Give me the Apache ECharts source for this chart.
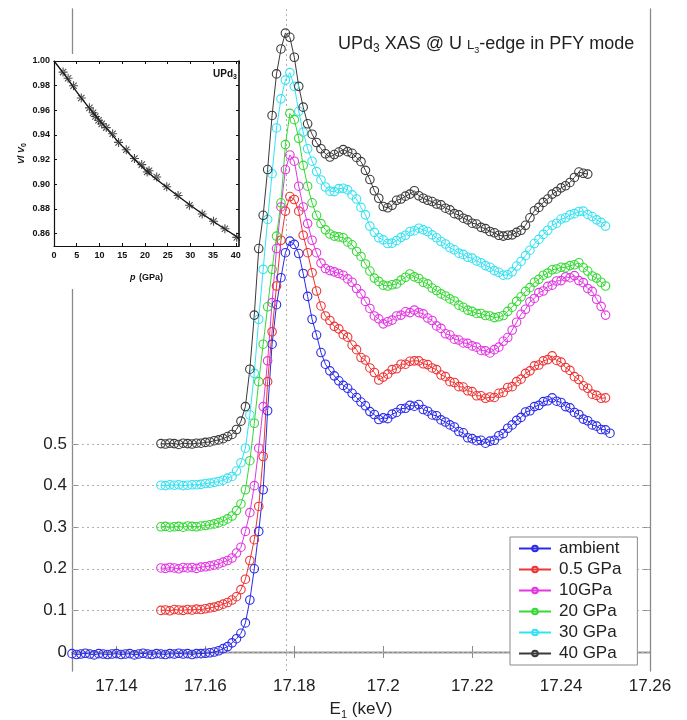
<!DOCTYPE html>
<html><head><meta charset="utf-8">
<script src="https://cdn.jsdelivr.net/npm/echarts@6/dist/echarts.min.js"></script>
<style>html,body{margin:0;padding:0;background:#fff}#c{width:687px;height:720px}</style>
</head><body><div id="c"></div>
<script>
// ---------------- main chart data ----------------
const seriesNames = ['ambient', '0.5 GPa', '10GPa', '20 GPa', '30 GPa', '40 GPa'];
const seriesColors = ['#2a2ae8', '#ee3434', '#e236e2', '#36d836', '#36e2f2', '#3a3a3a'];
const seriesStartKeV = [17.130, 17.150, 17.150, 17.150, 17.150, 17.150];

const ambient = [
 -0.004,-0.006,-0.005,-0.003,-0.005,-0.007,-0.004,-0.005,-0.006,-0.005,
 -0.004,-0.006,-0.005,-0.004,-0.007,-0.005,-0.003,-0.005,-0.006,-0.004,
 -0.005,-0.006,-0.004,-0.005,-0.003,-0.005,-0.004,-0.006,-0.004,-0.004,
 -0.003,-0.002,0.000,0.003,0.008,0.013,0.022,0.032,0.045,0.070,
 0.125,0.200,0.290,0.390,0.580,0.740,0.835,0.900,0.960,0.988,
 0.980,0.958,0.910,0.855,0.800,0.762,0.720,0.692,0.676,0.664,
 0.652,0.641,0.634,0.622,0.612,0.601,0.592,0.578,0.571,0.559,
 0.563,0.561,0.572,0.576,0.585,0.586,0.593,0.591,0.595,0.583,
 0.579,0.570,0.568,0.558,0.553,0.546,0.541,0.530,0.527,0.515,
 0.513,0.508,0.509,0.502,0.507,0.509,0.520,0.525,0.538,0.546,
 0.557,0.564,0.577,0.580,0.590,0.593,0.602,0.604,0.611,0.603,
 0.600,0.590,0.587,0.576,0.571,0.560,0.556,0.546,0.543,0.535,
 0.534,0.526
];
const gpa05 = [
 0.100,0.101,0.099,0.102,0.101,0.100,0.102,0.101,0.103,0.102,
 0.104,0.106,0.108,0.111,0.115,0.119,0.125,0.133,0.150,0.175,
 0.220,0.270,0.350,0.470,0.650,0.770,0.880,0.990,1.060,1.095,
 1.088,1.060,1.002,0.960,0.912,0.868,0.832,0.808,0.797,0.783,
 0.777,0.763,0.757,0.738,0.727,0.708,0.702,0.683,0.672,0.654,
 0.661,0.668,0.679,0.681,0.692,0.692,0.699,0.700,0.700,0.693,
 0.691,0.683,0.679,0.666,0.662,0.650,0.648,0.638,0.637,0.628,
 0.626,0.616,0.616,0.610,0.613,0.612,0.622,0.624,0.636,0.638,
 0.650,0.656,0.670,0.676,0.688,0.690,0.700,0.703,0.712,0.701,
 0.697,0.684,0.677,0.662,0.655,0.640,0.634,0.620,0.617,0.610,
 0.611
];
const gpa10 = [
 0.202,0.201,0.203,0.202,0.200,0.203,0.202,0.203,0.201,0.204,
 0.205,0.207,0.209,0.212,0.216,0.220,0.226,0.238,0.252,0.290,
 0.335,0.400,0.490,0.590,0.700,0.840,0.970,1.070,1.160,1.195,
 1.180,1.120,1.070,1.030,0.990,0.960,0.935,0.922,0.917,0.914,
 0.910,0.906,0.897,0.889,0.874,0.861,0.843,0.826,0.808,0.801,
 0.789,0.794,0.798,0.808,0.810,0.818,0.816,0.822,0.816,0.813,
 0.803,0.797,0.784,0.778,0.765,0.762,0.752,0.750,0.743,0.742,
 0.736,0.733,0.725,0.724,0.719,0.727,0.733,0.747,0.756,0.774,
 0.793,0.812,0.824,0.842,0.850,0.864,0.868,0.879,0.882,0.892,
 0.893,0.902,0.900,0.905,0.893,0.888,0.874,0.867,0.848,0.831,
 0.810
];
const gpa20 = [
 0.301,0.302,0.300,0.301,0.302,0.300,0.303,0.302,0.301,0.303,
 0.304,0.306,0.308,0.311,0.315,0.320,0.327,0.340,0.356,0.390,
 0.460,0.550,0.650,0.740,0.830,0.920,1.000,1.080,1.220,1.295,
 1.280,1.235,1.170,1.120,1.080,1.050,1.030,1.015,1.005,1.000,
 0.998,0.996,0.986,0.979,0.963,0.951,0.933,0.916,0.899,0.891,
 0.882,0.880,0.883,0.885,0.894,0.901,0.909,0.902,0.898,0.889,
 0.885,0.875,0.869,0.861,0.856,0.849,0.844,0.834,0.829,0.822,
 0.819,0.814,0.814,0.809,0.808,0.804,0.806,0.809,0.819,0.829,
 0.843,0.854,0.867,0.876,0.889,0.896,0.906,0.911,0.919,0.921,
 0.925,0.924,0.929,0.931,0.936,0.924,0.916,0.904,0.899,0.889,
 0.880
];
const gpa30 = [
 0.401,0.400,0.402,0.401,0.402,0.400,0.401,0.402,0.402,0.403,
 0.405,0.406,0.408,0.410,0.413,0.418,0.422,0.435,0.455,0.490,
 0.570,0.670,0.800,0.920,1.040,1.150,1.260,1.330,1.375,1.393,
 1.360,1.300,1.250,1.210,1.180,1.155,1.135,1.118,1.108,1.107,
 1.114,1.115,1.111,1.099,1.089,1.069,1.051,1.024,1.009,0.996,
 0.991,0.982,0.983,0.989,0.997,1.002,1.011,1.013,1.019,1.015,
 1.011,1.003,0.996,0.987,0.981,0.972,0.967,0.959,0.956,0.949,
 0.947,0.940,0.936,0.929,0.925,0.917,0.913,0.906,0.907,0.914,
 0.928,0.939,0.953,0.966,0.982,0.992,1.004,1.014,1.026,1.031,
 1.041,1.044,1.051,1.054,1.059,1.060,1.052,1.047,1.039,1.033,
 1.024
];
const gpa40 = [
 0.501,0.500,0.502,0.501,0.499,0.502,0.501,0.500,0.502,0.502,
 0.504,0.505,0.508,0.510,0.513,0.518,0.523,0.535,0.555,0.590,
 0.680,0.810,0.970,1.050,1.160,1.290,1.390,1.450,1.488,1.478,
 1.430,1.360,1.310,1.270,1.245,1.225,1.210,1.198,1.190,1.196,
 1.202,1.208,1.203,1.199,1.189,1.179,1.158,1.136,1.109,1.091,
 1.071,1.068,1.074,1.086,1.089,1.096,1.101,1.109,1.097,1.091,
 1.086,1.083,1.077,1.075,1.067,1.063,1.054,1.051,1.043,1.039,
 1.031,1.029,1.021,1.018,1.011,1.008,1.002,1.000,1.002,1.003,
 1.009,1.014,1.026,1.044,1.061,1.069,1.081,1.089,1.101,1.107,
 1.116,1.121,1.129,1.141,1.154,1.151,1.149
];
const seriesValues = [ambient, gpa05, gpa10, gpa20, gpa30, gpa40];

const xTickValues = [17.14, 17.16, 17.18, 17.2, 17.22, 17.24, 17.26];
const yTickValues = [0, 0.1, 0.2, 0.3, 0.4, 0.5];
const peakLineKeV = 17.1783;

// ---------------- inset data ----------------
const insetPressure = [2.0, 3.1, 4.3, 6.0, 7.8, 8.6, 9.1, 9.8, 10.5, 11.5, 12.9, 14.2, 15.9, 17.7, 19.3, 20.5, 20.9, 22.6, 24.8, 27.3, 29.8, 32.6, 35.1, 37.6, 40.2];
const insetVolume   = [0.991, 0.986, 0.980, 0.970, 0.962, 0.958, 0.955, 0.952, 0.949, 0.946, 0.941, 0.934, 0.928, 0.921, 0.916, 0.910, 0.911, 0.906, 0.898, 0.891, 0.883, 0.876, 0.870, 0.864, 0.857];
const fitPressure = [0, 2.5, 5, 7.5, 10, 15, 20, 25, 30, 35, 40, 40.6];
const fitVolume   = [1.000, 0.988, 0.975, 0.963, 0.952, 0.931, 0.912, 0.897, 0.883, 0.870, 0.858, 0.856];
const insetYTicks = [0.86, 0.88, 0.90, 0.92, 0.94, 0.96, 0.98, 1.00];

// ---------------- build ----------------
const FONT = '"Liberation Sans", Arial, sans-serif';
const GRAY = '#8a8a8a';
const X_MIN = 17.13, X_MAX = 17.26, Y_MIN = -0.0457, Y_MAX = 1.546;

function energies(start, n) {
  const out = [];
  const s = Math.round(start * 1000);
  for (let i = 0; i < n; i++) out.push((s + i) / 1000);
  return out;
}

const mainSeries = seriesValues.map((vals, k) => {
  const E = energies(seriesStartKeV[k], vals.length);
  const c = seriesColors[k];
  const s = {
    name: seriesNames[k],
    type: 'line',
    xAxisIndex: 0, yAxisIndex: 0,
    data: vals.map((v, i) => [E[i], v]),
    symbol: 'circle',
    symbolSize: 8.5,
    showSymbol: true,
    color: c,
    lineStyle: { color: c, width: 1 },
    itemStyle: { color: 'rgba(255,255,255,0)', borderColor: c, borderWidth: 1.1 },
    emphasis: { disabled: true },
    z: 2
  };
  if (k === 0) {
    s.markLine = {
      silent: true,
      symbol: ['none', 'none'],
      label: { show: false },
      precision: 6,
      lineStyle: { color: '#b0b0b0', type: [2, 3], width: 1 },
      data: yTickValues.map(v => [{ coord: [X_MIN, v] }, { coord: [X_MAX, v] }])
        .concat([[{ coord: [peakLineKeV, Y_MIN] }, { coord: [peakLineKeV, Y_MAX] }]]),
      z: 1
    };
  }
  return s;
});

const chart = echarts.init(document.getElementById('c'), null, { renderer: 'canvas' });
const fmtX = v => String(Number(v.toFixed(2)));

chart.setOption({
  animation: false,
  backgroundColor: '#fff',
  textStyle: { fontFamily: FONT },
  grid: [
    { left: 72, right: 37, top: 9, bottom: 49, containLabel: false, outerBoundsMode: 'none' },
    { left: 54, top: 61, width: 185, height: 185, z: 6, containLabel: false, outerBoundsMode: 'none' }
  ],
  xAxis: [
    {
      type: 'value', gridIndex: 0, min: X_MIN, max: X_MAX, position: 'bottom',
      axisLine: { lineStyle: { color: GRAY, width: 1.3 } },
      axisTick: { inside: true, length: 6, customValues: xTickValues, lineStyle: { color: GRAY } },
      axisLabel: { customValues: xTickValues, formatter: fmtX, color: '#222', fontSize: 17, margin: 7, fontFamily: FONT },
      splitLine: { show: false },
      name: '{a|E}{s|1}{a| (keV)}', nameLocation: 'middle', nameGap: 27,
      nameTextStyle: { rich: {
        a: { fontSize: 17, color: '#222', fontFamily: FONT, lineHeight: 22, verticalAlign: 'middle' },
        s: { fontSize: 11, color: '#222', fontFamily: FONT, lineHeight: 14, verticalAlign: 'bottom' } } }
    },
    {
      type: 'value', gridIndex: 0, min: X_MIN, max: X_MAX, position: 'top',
      axisLine: { lineStyle: { color: GRAY, width: 1.3 } },
      axisTick: { inside: true, length: 6, customValues: xTickValues, lineStyle: { color: GRAY } },
      axisLabel: { show: false }, splitLine: { show: false }
    },
    {
      type: 'value', gridIndex: 1, min: 0, max: 40.7, interval: 5, position: 'bottom', z: 7,
      axisLine: { onZero: false, lineStyle: { color: '#111', width: 1.2 } },
      axisTick: { inside: true, length: 3, lineStyle: { color: '#111' } },
      axisLabel: { color: '#111', fontSize: 9, fontWeight: 'bold', margin: 5, fontFamily: FONT,
        showMaxLabel: false },
      splitLine: { show: false },
      name: '{i|p} {b|(GPa)}', nameLocation: 'middle', nameGap: 26,
      nameTextStyle: { rich: {
        i: { fontSize: 9, fontStyle: 'italic', fontWeight: 'bold', color: '#111', fontFamily: FONT },
        b: { fontSize: 9, fontWeight: 'bold', color: '#111', fontFamily: FONT } } }
    },
    {
      type: 'value', gridIndex: 1, min: 0, max: 40.7, interval: 5, position: 'top', z: 7,
      axisLine: { onZero: false, lineStyle: { color: '#111', width: 1.2 } },
      axisTick: { inside: true, length: 3, lineStyle: { color: '#111' } },
      axisLabel: { show: false }, splitLine: { show: false }
    }
  ],
  yAxis: [
    {
      type: 'value', gridIndex: 0, min: Y_MIN, max: Y_MAX, position: 'left',
      axisLine: { lineStyle: { color: GRAY, width: 1.3 } },
      axisTick: { inside: true, length: 6, customValues: yTickValues, lineStyle: { color: GRAY } },
      axisLabel: { customValues: yTickValues, formatter: v => String(Number(v.toFixed(1))), color: '#222', fontSize: 17, margin: 5, fontFamily: FONT },
      splitLine: { show: false }
    },
    {
      type: 'value', gridIndex: 0, min: Y_MIN, max: Y_MAX, position: 'right',
      axisLine: { lineStyle: { color: GRAY, width: 1.3 } },
      axisTick: { inside: true, length: 6, customValues: yTickValues, lineStyle: { color: GRAY } },
      axisLabel: { show: false }, splitLine: { show: false }
    },
    {
      type: 'value', gridIndex: 1, min: 0.85, max: 1.0, position: 'left', z: 7,
      axisLine: { onZero: false, lineStyle: { color: '#111', width: 1.2 } },
      axisTick: { inside: true, length: 3, customValues: insetYTicks, lineStyle: { color: '#111' } },
      axisLabel: { customValues: insetYTicks, formatter: v => v.toFixed(2), color: '#111', fontSize: 9, fontWeight: 'bold', margin: 4, fontFamily: FONT },
      splitLine: { show: false },
      name: '{i|V}{b|/ }{i|V}{s|0}', nameLocation: 'middle', nameGap: 26, nameRotate: 90,
      nameTextStyle: { rich: {
        i: { fontSize: 9, fontStyle: 'italic', fontWeight: 'bold', color: '#111', fontFamily: FONT, lineHeight: 12, verticalAlign: 'middle' },
        b: { fontSize: 9, fontWeight: 'bold', color: '#111', fontFamily: FONT, lineHeight: 12, verticalAlign: 'middle' },
        s: { fontSize: 7, fontWeight: 'bold', color: '#111', fontFamily: FONT, lineHeight: 8, verticalAlign: 'bottom' } } }
    },
    {
      type: 'value', gridIndex: 1, min: 0.85, max: 1.0, position: 'right', z: 7,
      axisLine: { onZero: false, lineStyle: { color: '#111', width: 1.6 } },
      axisTick: { inside: true, length: 3, customValues: insetYTicks, lineStyle: { color: '#111' } },
      axisLabel: { show: false }, splitLine: { show: false }
    }
  ],
  legend: {
    data: seriesNames,
    orient: 'vertical',
    left: 510, top: 537,
    itemWidth: 32, itemHeight: 7, itemGap: 4,
    padding: [3, 16, 3, 8],
    borderColor: '#8a8a8a', borderWidth: 1, backgroundColor: '#fff',
    textStyle: { fontSize: 17, lineHeight: 17, color: '#222', fontFamily: FONT, padding: [0, 0, 0, 3] },
    z: 10
  },
  graphic: [
    { type: 'rect', z: 5, silent: true, shape: { x: 0, y: 54, width: 252, height: 235 }, style: { fill: '#fff' } },
    { type: 'text', z: 10, left: 338, top: 35, silent: true,
      style: {
        text: '{n|UPd}{s|3}{n| XAS @ U }{m|L}{t|3}{n|-edge in PFY mode}',
        rich: {
          n: { fontSize: 18, fill: '#222', fontFamily: FONT, lineHeight: 22, verticalAlign: 'middle' },
          s: { fontSize: 12, fill: '#222', fontFamily: FONT, lineHeight: 13, verticalAlign: 'bottom' },
          m: { fontSize: 13, fill: '#222', fontFamily: FONT, lineHeight: 22, verticalAlign: 'middle', padding: [3, 0, 0, 0] },
          t: { fontSize: 9, fill: '#222', fontFamily: FONT, lineHeight: 15, verticalAlign: 'bottom' }
        }
      } },
    { type: 'text', z: 10, left: 213, top: 69, silent: true,
      style: {
        text: '{n|UPd}{s|3}',
        rich: {
          n: { fontSize: 10, fontWeight: 'bold', fill: '#111', fontFamily: FONT, lineHeight: 14, verticalAlign: 'middle' },
          s: { fontSize: 7, fontWeight: 'bold', fill: '#111', fontFamily: FONT, lineHeight: 9, verticalAlign: 'bottom' }
        }
      } }
  ],
  series: mainSeries.concat([
    {
      name: 'fit', type: 'line', xAxisIndex: 2, yAxisIndex: 2,
      data: fitPressure.map((p, i) => [p, fitVolume[i]]),
      smooth: 0.4, showSymbol: false, lineStyle: { color: '#111', width: 1.3 }, z: 8,
      emphasis: { disabled: true }
    },
    {
      name: 'points', type: 'scatter', xAxisIndex: 2, yAxisIndex: 2,
      data: insetPressure.map((p, i) => [p, insetVolume[i]]),
      symbol: 'path://M-5,-0.6L5,-0.6L5,0.6L-5,0.6Z M-0.6,-5L0.6,-5L0.6,5L-0.6,5Z M-3.08,-3.92L3.92,3.08L3.08,3.92L-3.92,-3.08Z M-3.08,3.92L3.92,-3.08L3.08,-3.92L-3.92,3.08Z',
      symbolSize: 9, itemStyle: { color: '#222' }, z: 9,
      emphasis: { disabled: true }
    }
  ])
});
</script>
</body></html>
